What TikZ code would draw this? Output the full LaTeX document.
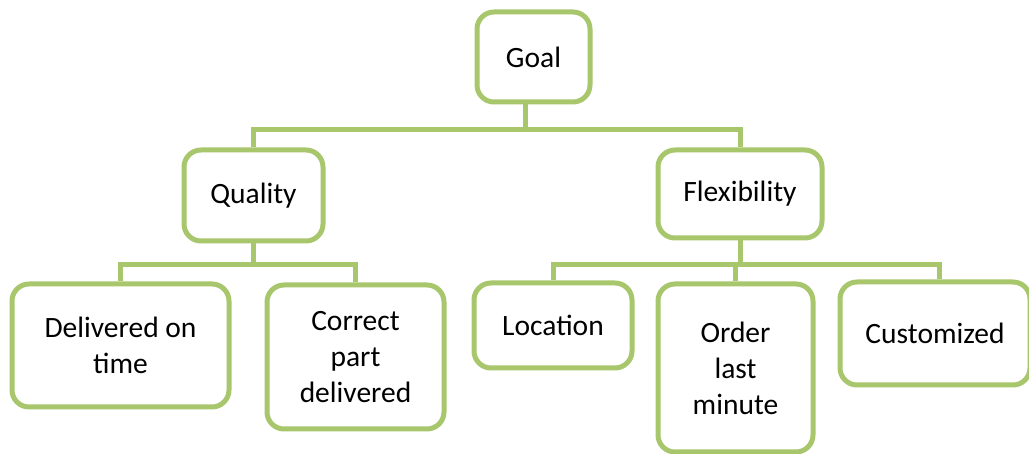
\documentclass[tikz,border=0pt]{standalone}
\usepackage{fontspec}
\setmainfont{Carlito}
\usepackage{tikz}
\usetikzlibrary{calc}
\definecolor{leaf}{RGB}{168,198,108}
\tikzset{
  box/.style={draw=leaf, line width=5pt, rounded corners=17pt, fill=white,
    inner sep=0pt, align=center, font=\fontsize{29.5}{36}\selectfont},
  link/.style={draw=leaf, line width=5pt},
}

\begin{document}
\begin{tikzpicture}[x=1pt, y=-1pt]
    \useasboundingbox (0,0) rectangle (1029,454);
    \clip (0,0) rectangle (1029,454);

    % top two levels
    \node[box, minimum width=113pt, minimum height=90pt] (goal) at (533.5,57) {Goal};
    \node[box, minimum width=139pt, minimum height=91pt] (quality) at (253.5,195.5) {Quality};
    \node[box, minimum width=164pt, minimum height=88pt] (flex) at (740,194) {Flexibility};

    % leaves
    \node[box, minimum width=217pt, minimum height=123pt] (ontime) at (120.5,345.5) {Delivered on\\time};
    \node[box, minimum width=177pt, minimum height=144pt] (rightpart) at (355.5,357) {Correct\\part\\delivered};
    \node[box, minimum width=158pt, minimum height=85pt] (location) at (553,325.5) {Location};
    \node[box, minimum width=155pt, minimum height=168pt] (lastmin) at (735.5,368) {Order\\last\\minute};
    \node[box, minimum width=190pt, minimum height=103pt] (custom) at (935,333.5) {Customized};

    \draw[link] ([xshift=-8.5pt]goal.south) -- ++(0,25) -| (quality.north);
    \draw[link] ([xshift=-8.5pt]goal.south) -- ++(0,25) -| (flex.north);

    \draw[link] (quality.south) -- ++(0,21) -| (ontime.north);
    \draw[link] (quality.south) -- ++(0,21) -| (rightpart.north);

    \draw[link] (flex.south) -- ++(0,24) -| (location.north);
    \draw[link] (flex.south) -- ++(0,24) -| (lastmin.north);
    \draw[link] (flex.south) -- ++(0,24) -| ([xshift=4pt]custom.north);
\end{tikzpicture}
\end{document}
